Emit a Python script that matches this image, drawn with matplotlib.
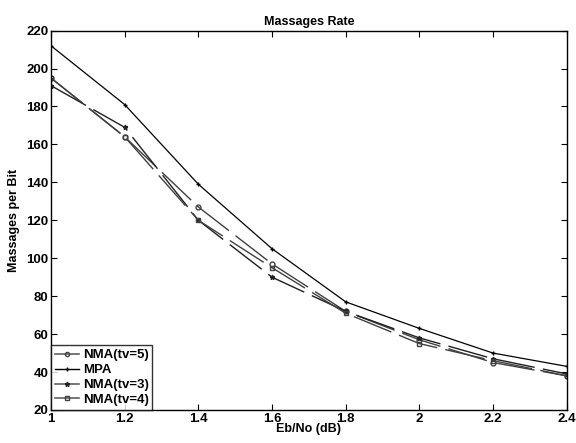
import matplotlib
matplotlib.use("Agg")
import matplotlib.pyplot as plt
from matplotlib.lines import Line2D

plt.rcParams['font.family'] = ['Liberation Sans', 'DejaVu Sans']

ebno = [1.0, 1.2, 1.4, 1.6, 1.8, 2.0, 2.2, 2.4]
nma5 = [195, 164, 127, 97, 72, 57, 45, 38]
mpa = [212, 181, 139, 105, 77, 63, 50, 43]
nma3 = [191, 169, 120, 90, 72, 58, 47, 39]
nma4 = [195, 164, 120, 95, 71, 55, 46, 38]

xticks = [1, 1.2, 1.4, 1.6, 1.8, 2, 2.2, 2.4]
xticklabels = ['1', '1.2', '1.4', '1.6', '1.8', '2', '2.2', '2.4']
yticks = list(range(20, 221, 20))

fig = plt.figure(figsize=(5.76, 4.43), dpi=100)
ax = fig.add_axes([0.0885, 0.0745, 0.8955, 0.8565])

dash = (0, (29, 6))
ax.plot(ebno, nma5, color='#404040', linestyle=dash, linewidth=1.0, marker='o',
        markersize=3.5, markerfacecolor='none', markeredgecolor='#404040')
ax.plot(ebno, mpa, color='black', linestyle='-', linewidth=0.9, marker='+',
        markersize=3)
ax.plot(ebno, nma3, color='#202020', linestyle=dash, linewidth=1.0, marker='*',
        markersize=3.5)
ax.plot(ebno, nma4, color='#404040', linestyle=dash, linewidth=1.0, marker='s',
        markersize=3.5, markerfacecolor='none', markeredgecolor='#404040')

handles = [
    Line2D([], [], color='#606060', lw=1.2, marker='o', markersize=3,
           markerfacecolor='none', markeredgecolor='#404040'),
    Line2D([], [], color='black', lw=1.0, marker='+', markersize=3),
    Line2D([], [], color='#606060', lw=1.2, marker='*', markersize=3.5,
           markeredgecolor='#202020', markerfacecolor='#202020'),
    Line2D([], [], color='#606060', lw=1.2, marker='s', markersize=3,
           markerfacecolor='none', markeredgecolor='#404040'),
]
labels = ['NMA(tv=5)', 'MPA', 'NMA(tv=3)', 'NMA(tv=4)']

ax.set_xlim(1, 2.4)
ax.set_ylim(20, 220)
ax.set_xticks(xticks)
ax.set_xticklabels(xticklabels)
ax.set_yticks(yticks)
ax.tick_params(direction='in', top=True, right=True, length=4, width=0.8,
               labelsize=9.5, pad=2)
for lbl in ax.get_xticklabels() + ax.get_yticklabels():
    lbl.set_fontweight('bold')
for s in ax.spines.values():
    s.set_linewidth(1.0)

ax.set_title('Massages Rate', fontsize=9, fontweight='bold', pad=4)
ax.set_xlabel('Eb/No (dB)', fontsize=9, fontweight='bold', labelpad=-1)
ax.set_ylabel('Massages per Bit', fontsize=9, fontweight='bold', labelpad=4)

leg = ax.legend(handles, labels, loc='lower left',
                prop={'weight': 'bold', 'size': 9.5},
                frameon=True, fancybox=False, edgecolor='black', borderpad=0.3,
                handlelength=1.8, handletextpad=0.3, labelspacing=0.2,
                borderaxespad=0)
leg.get_frame().set_linewidth(1.0)

fig.savefig('out.png', dpi=100)
